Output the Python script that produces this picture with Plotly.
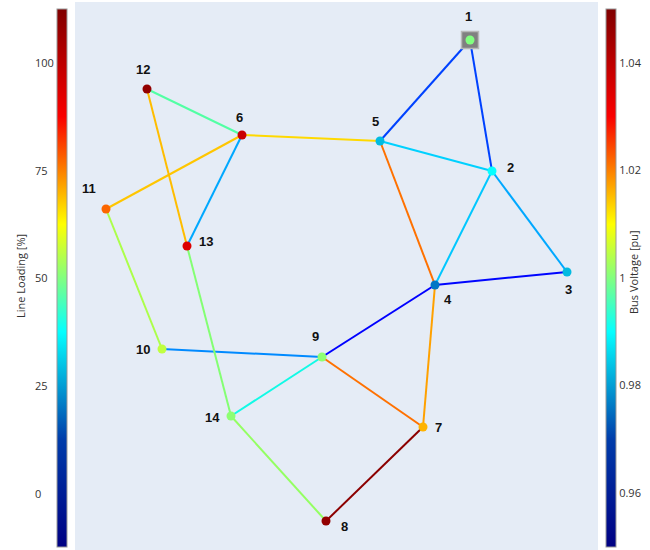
import plotly.graph_objects as go
from plotly.colors import sample_colorscale

# ---------------- data ----------------
bus_ids = [1, 2, 3, 4, 5, 6, 7, 8, 9, 10, 11, 12, 13, 14]
bus_x = [3.95, 4.17, 4.92, 3.60, 3.05, 1.67, 3.48, 2.51, 2.47, 0.87, 0.31, 0.72, 1.12, 1.56]
bus_y = [5.10, 3.79, 2.78, 2.65, 4.09, 4.15, 1.23, 0.29, 1.93, 2.01, 3.41, 4.61, 3.04, 1.34]
bus_vm = [1.000, 0.990, 0.983, 0.976, 0.983, 1.038, 1.016, 1.047, 1.001, 1.005, 1.022, 1.047, 1.035, 1.001]

line_from = [1, 1, 2, 2, 2, 3, 4, 4, 4, 5, 6, 6, 6, 7, 7, 9, 9, 10, 12, 13, 14]
line_to = [2, 5, 3, 4, 5, 4, 5, 7, 9, 6, 11, 12, 13, 8, 9, 10, 14, 11, 13, 14, 8]
line_loading = [19, 19, 29, 32, 33, 13, 79, 74, 12, 68, 70, 45, 29, 99, 79, 26, 37, 56, 71, 51, 53]

ext_grid_bus = [1]

load_ticks = [0, 25, 50, 75, 100]
load_limits = [0, 100]          # colour limits used for the line colours
load_cbar_range = [-12.5, 112.5]  # range shown on the line-loading colour bar
volt_range = [0.95, 1.05]

# ---------------- styles ----------------
# label offsets in px (dx right, dy up)
label_dx = [-2, 18, 1, 13, -5, -3, 15, 18, -7, -19, -17, -4, 19, -19]
label_dy = [24, 4, -17, -14, 20, 18, 0, -5, 21, 0, 21, 20, 5, -1]

# matplotlib-style jet (used for line colours)
mpl_jet = [
    [0.0, "rgb(0,0,128)"], [0.11, "rgb(0,0,255)"], [0.125, "rgb(0,0,255)"],
    [0.34, "rgb(0,219,255)"], [0.35, "rgb(0,230,247)"], [0.375, "rgb(21,255,226)"],
    [0.64, "rgb(238,255,8)"], [0.65, "rgb(247,246,0)"], [0.66, "rgb(255,236,0)"],
    [0.89, "rgb(255,19,0)"], [0.91, "rgb(232,0,0)"], [1.0, "rgb(128,0,0)"],
]

TXT = "#333"
W, H = 650, 550
ML, MR, MT, MB = 75, 52, 2, 0
PW, PH = W - ML - MR, H - MT - MB

fig = go.Figure()

pos = {b: (x, y) for b, x, y in zip(bus_ids, bus_x, bus_y)}

# lines
for f, t, ld in zip(line_from, line_to, line_loading):
    frac = (ld - load_limits[0]) / (load_limits[1] - load_limits[0])
    frac = min(max(frac, 0), 1)
    col = sample_colorscale(mpl_jet, [frac])[0]
    fig.add_trace(go.Scatter(
        x=[pos[f][0], pos[t][0]], y=[pos[f][1], pos[t][1]],
        mode="lines", line=dict(color=col, width=2),
        hoverinfo="text", text=f"Line {f}-{t}: {ld}%", showlegend=False))

# colour bar geometry (pixels)
bar_top_px, bar_bot_px = 9.25, 546.75
bar_len_px = bar_bot_px - bar_top_px
ypad = 10
cb_center = (H - MB - (bar_top_px + bar_bot_px) / 2) / PH
cb_y0 = (H - MB - bar_bot_px) / PH
cb_frac = bar_len_px / PH

# line loading colour bar (dummy trace)
fig.add_trace(go.Scatter(
    x=[bus_x[0], bus_x[0]], y=[bus_y[0], bus_y[0]], mode="markers",
    marker=dict(size=0, opacity=0, color=load_cbar_range,
                cmin=load_cbar_range[0], cmax=load_cbar_range[1],
                colorscale="Jet", showscale=True,
                colorbar=dict(thickness=10, x=(57 - ML - 10) / PW, xanchor="left",
                              lenmode="pixels", len=bar_len_px + 2 * ypad, ypad=ypad,
                              y=cb_center, yanchor="middle",
                              outlinewidth=1, outlinecolor="#999",
                              showticklabels=False, ticks="")),
    hoverinfo="skip", showlegend=False))

# external grid
fig.add_trace(go.Scatter(
    x=[pos[b][0] for b in ext_grid_bus], y=[pos[b][1] for b in ext_grid_bus],
    mode="markers",
    marker=dict(symbol="square", size=17, color="grey",
                line=dict(color="#b8b8b8", width=1.5)),
    hoverinfo="text", text=["External grid"], showlegend=False))

# buses
fig.add_trace(go.Scatter(
    x=bus_x, y=bus_y, mode="markers",
    marker=dict(size=9, color=bus_vm, cmin=volt_range[0], cmax=volt_range[1],
                colorscale="Jet", showscale=True,
                colorbar=dict(thickness=10, x=(606 - ML - 10) / PW, xanchor="left",
                              lenmode="pixels", len=bar_len_px + 2 * ypad, ypad=ypad,
                              y=cb_center, yanchor="middle",
                              outlinewidth=1, outlinecolor="#999",
                              dtick=0.02, ticks="",
                              tickfont=dict(size=11, color=TXT))),
    hoverinfo="text", text=[f"Bus {b}: {v:.3f} pu" for b, v in zip(bus_ids, bus_vm)],
    showlegend=False))

annotations = []
for b, x, y, dx, dy in zip(bus_ids, bus_x, bus_y, label_dx, label_dy):
    annotations.append(dict(x=x, y=y, xref="x", yref="y", text=f"<b>{b}</b>",
                            showarrow=False, xshift=dx, yshift=dy,
                            font=dict(size=13, color="#111", family="Liberation Sans, Arial")))

# tick labels of the line-loading colour bar (left side)
for v in load_ticks:
    yp = cb_y0 + (v - load_cbar_range[0]) / (load_cbar_range[1] - load_cbar_range[0]) * cb_frac
    annotations.append(dict(x=(33 - ML) / PW, y=yp, xref="paper", yref="paper",
                            text=str(v), showarrow=False, xanchor="left", yanchor="middle",
                            font=dict(size=11, color=TXT)))

annotations.append(dict(x=(20 - ML) / PW, y=(H - MB - 276) / PH, xref="paper", yref="paper",
                        text="Line Loading [%]", textangle=-90, showarrow=False,
                        xanchor="center", yanchor="middle", font=dict(size=11, color=TXT)))
annotations.append(dict(x=(633 - ML) / PW, y=(H - MB - 272) / PH, xref="paper", yref="paper",
                        text="Bus Voltage [pu]", textangle=-90, showarrow=False,
                        xanchor="center", yanchor="middle", font=dict(size=11, color=TXT)))

fig.update_layout(
    width=W, height=H,
    margin=dict(l=ML, r=MR, t=MT, b=MB, autoexpand=False),
    plot_bgcolor="#E5ECF6", paper_bgcolor="white",
    showlegend=False, hovermode="closest",
    xaxis=dict(range=[0, PW / 100], visible=False, fixedrange=True),
    yaxis=dict(range=[0, PH / 100], visible=False, fixedrange=True),
    annotations=annotations,
)

fig.write_html("out.html")
